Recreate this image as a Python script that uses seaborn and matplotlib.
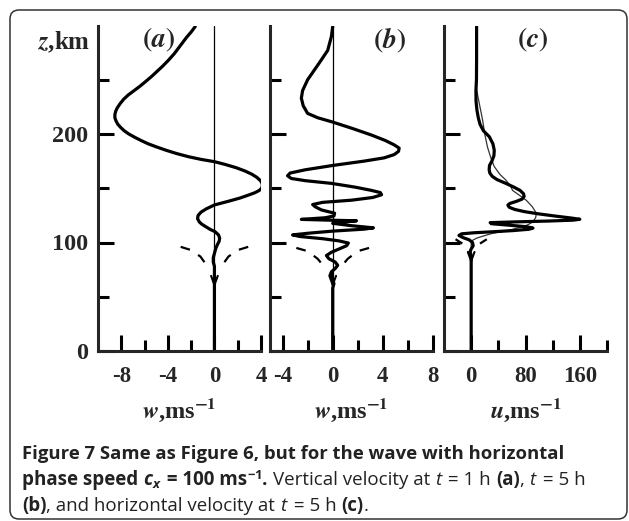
import matplotlib
matplotlib.use("Agg")
import matplotlib.pyplot as plt
from matplotlib.patches import FancyBboxPatch
from matplotlib.transforms import IdentityTransform
import seaborn as sns

# ------------------------------------
# Data (z in km)
# ------------------------------------
# (a) vertical velocity w at t = 1 h
z_a = [299, 294, 289, 284, 279, 274, 268, 263, 258, 253, 248, 244, 240, 236,
       232, 228, 224, 221, 218, 215, 212, 209, 206, 203, 200, 197, 194, 191,
       188, 185, 182, 179, 176.5, 174.5, 172, 169, 166, 163, 160, 157, 154.5,
       152, 150, 148, 146, 144, 141, 138, 134.6, 131, 128, 125, 122, 119, 117,
       114.6, 112, 110, 107, 104, 101, 98, 94, 90, 86, 82, 78, 74, 70, 64, 58,
       40, 20, 0]
w_a = [-1.65, -2.0, -2.4, -2.75, -3.1, -3.45, -3.95, -4.4, -4.9, -5.4, -5.95,
       -6.4, -6.9, -7.4, -7.8, -8.1, -8.35, -8.48, -8.55, -8.55, -8.45, -8.3,
       -8.05, -7.75, -7.35, -6.85, -6.3, -5.7, -4.95, -4.15, -3.25, -2.2,
       -1.1, 0.0, 0.9, 1.85, 2.6, 3.2, 3.65, 3.95, 4.1, 4.12, 4.05, 3.85, 3.5,
       3.0, 2.2, 1.2, 0.0, -0.7, -1.15, -1.4, -1.45, -1.3, -1.1, -0.75, -0.35,
       0.05, 0.35, 0.45, 0.4, 0.25, 0.1, 0.0, -0.1, -0.1, 0.0, 0.0, 0.0, 0.0,
       0.0, 0.0, 0.0, 0.0]

# (b) vertical velocity w at t = 5 h
z_b = [299, 290, 277, 265, 250, 240, 233, 226, 219, 215, 211, 205, 199, 194,
       190, 187, 184, 181, 178, 175, 171, 167, 164, 161.5, 159, 157, 154.5,
       151, 148, 146, 144, 141.5, 139, 137, 135, 133, 130, 127, 124.5, 122.8,
       121.3, 120.6, 120.0, 119.0, 117.7, 115.5, 113.5, 112.3, 110.5, 108.5,
       107.0, 105.5, 103.5, 101.5, 99.5, 97, 94, 91, 88, 85, 82, 79, 76, 73,
       70, 66, 62, 58, 40, 20, 0]
w_b = [0.0, -0.1, -0.4, -1.1, -2.0, -2.4, -2.5, -2.35, -2.0, -1.2, 0.0, 1.6,
       3.1, 4.2, 4.9, 5.3, 5.25, 4.9, 4.1, 2.5, 0.0, -2.2, -3.4, -3.6, -3.3,
       -2.2, -0.1, 1.8, 3.1, 3.8, 3.9, 3.2, 1.5, -0.8, -1.6, -1.4, -0.9, 0.15,
       0.1, -0.6, -2.5, -0.3, 1.9, 1.0, 0.0, 1.5, 3.25, 2.5, 0.0, -2.0, -3.2,
       -2.6, -0.8, 0.5, 1.25, 1.1, 0.5, -0.1, -0.5, -0.3, 0.2, 0.4, 0.2, -0.1,
       -0.2, 0.0, 0.1, 0.0, 0.0, 0.0, 0.0]

# (c) horizontal velocity u at t = 5 h (thick) and thin reference curve
z_c = [299, 270, 250, 240, 230, 222, 215, 209, 203, 197.5, 191, 185, 180,
       175, 171, 167, 164, 161, 158, 154.5, 151, 148, 145, 142.5, 140, 138,
       136, 134.5, 132.5, 130.5, 128.5, 126.5, 124.5, 122.5, 121.4, 120.6,
       119.8, 119.0, 118.3, 117.3, 116, 114.5, 113.3, 112.2, 111, 110, 109,
       108, 106.5, 104.5, 102.5, 100, 97, 94, 91, 88, 84, 80, 60, 30, 0]
u_c = [8, 8, 7.8, 7, 7.2, 8.5, 10.5, 13, 18, 26.7, 32, 34, 33.5, 30.5, 27,
       26.5, 27.5, 31, 38, 51, 63, 72, 77, 78, 75, 67, 57, 54, 56, 64, 78, 98,
       122, 148, 160, 150, 115, 65, 28, 30, 55, 82, 91, 85, 62, 35, 5, -14,
       -18, -12, -3, 2, 3, 0, -2, 0, 0, 0, 0, 0, 0]
z_c_thin = [299, 244, 228, 213, 200, 188, 178, 170, 163, 157.6, 152, 148,
            144, 139, 133, 127, 123, 119, 116.5, 114.6, 112, 110, 108.5, 106,
            104, 102, 99, 90, 0]
u_c_thin = [8, 7, 12, 16.8, 20, 24, 29, 34, 42, 51, 58, 61, 70, 81, 90, 96,
            95, 91, 84, 76, 60, 45, 31.6, 18, 8, 2, 0, 0, 0]

# dashed guide lines (left branch; right branch is mirrored)
dash_z_a = [96, 93, 87, 78]
dash_x_a = [-2.9, -2.0, -1.2, -0.6]
dash_z_b = [95, 92, 85, 78]
dash_x_b = [-2.9, -2.0, -1.2, -0.7]
dash_z_c = [103, 99]
dash_x_c = [-23, -13]

# axis ranges, ticks and labels
xlims = [(-10, 4), (-5, 8), (-40, 200)]
x_major = [[-8, -4, 0, 4], [-4, 0, 4, 8], [0, 80, 160]]
x_minor = [[-6, -2, 2], [-2, 2, 6], [40, 120, 200]]
y_major = [0, 100, 200]
y_minor = [50, 150, 250]
panel_tags = ["a", "b", "c"]
panel_xlabels = [r"$\mathbfit{w}$,ms$^{\mathbf{-1}}$",
                 r"$\mathbfit{w}$,ms$^{\mathbf{-1}}$",
                 r"$\mathbfit{u}$,ms$^{\mathbf{-1}}$"]

# ------------------------------------
# Style
# ------------------------------------
sns.set_theme(style="ticks")
plt.rcParams["font.family"] = ["Liberation Serif", "DejaVu Serif"]
plt.rcParams["axes.unicode_minus"] = False
plt.rcParams["lines.scale_dashes"] = False
plt.rcParams["mathtext.fontset"] = "custom"
plt.rcParams["mathtext.rm"] = "Open Sans"
plt.rcParams["mathtext.it"] = "Open Sans:italic"
plt.rcParams["mathtext.bf"] = "Open Sans:bold"
plt.rcParams["mathtext.bfit"] = "Open Sans:italic:bold"

W, H = 629, 521
fig = plt.figure(figsize=(W / 100, H / 100), dpi=100)


def px_rect(x0, x1, ytop, ybot):
    return [x0 / W, 1 - ybot / H, (x1 - x0) / W, (ybot - ytop) / H]


ax_a = fig.add_axes(px_rect(98, 261, 25.5, 351))
ax_b = fig.add_axes(px_rect(270, 433, 25.5, 351))
ax_c = fig.add_axes(px_rect(444, 607, 25.5, 351))
axes = [ax_a, ax_b, ax_c]

thick = 2.3
sns.lineplot(x=w_a, y=z_a, sort=False, estimator=None, color="black",
             lw=thick, ax=ax_a)
sns.lineplot(x=w_b, y=z_b, sort=False, estimator=None, color="black",
             lw=thick, ax=ax_b)
sns.lineplot(x=u_c_thin, y=z_c_thin, sort=False, estimator=None,
             color="#333333", lw=0.9, ax=ax_c)
sns.lineplot(x=u_c, y=z_c, sort=False, estimator=None, color="black",
             lw=thick, ax=ax_c)

for ax in [ax_a, ax_b]:
    ax.axvline(0, color="black", lw=0.9)

dashes = [(dash_x_a, dash_z_a), (dash_x_b, dash_z_b), (dash_x_c, dash_z_c)]
for ax, (dx, dz) in zip(axes, dashes):
    ax.plot(dx, dz, color="black", lw=1.6, ls=(0, (7, 7)))
    ax.plot([-v for v in dx], dz, color="black", lw=1.6, ls=(0, (7, 7)))

arrows = [(58, 72), (58, 72), (80, 90)]
for ax, (tip, tail) in zip(axes, arrows):
    ax.annotate("", xy=(0, tip), xytext=(0, tail),
                arrowprops=dict(arrowstyle="->,head_length=0.55,head_width=0.2",
                                lw=1.5, color="black", shrinkA=0, shrinkB=0))

for i, ax in enumerate(axes):
    ax.set_xlim(*xlims[i])
    ax.set_ylim(0, 300)
    sns.despine(ax=ax)
    for s in ["left", "bottom"]:
        ax.spines[s].set_linewidth(2.2)
    ax.set_xticks(x_major[i], [str(v) for v in x_major[i]])
    ax.set_xticks(x_minor[i], minor=True)
    ax.set_yticks(y_major, [str(v) for v in y_major])
    ax.set_yticks(y_minor, minor=True)
    ax.tick_params(which="both", direction="in", width=2.2, color="black")
    ax.tick_params(which="major", length=11.5)
    ax.tick_params(which="minor", length=8)
    ax.tick_params(axis="x", which="major", pad=11, labelsize=16.5)
    ax.tick_params(axis="y", which="major", pad=7, labelsize=17.5,
                   labelleft=(i == 0))
    for lab in ax.get_xticklabels() + ax.get_yticklabels():
        lab.set_fontweight("bold")
    ax.set_xlabel(panel_xlabels[i], fontsize=17.5, fontweight="bold",
                  math_fontfamily="stix", labelpad=7)
    ax.set_ylabel("")
    ax.patch.set_alpha(0)

tag_pos = [(0.374, 0.955), (0.736, 0.955), (0.546, 0.955)]
for ax, tag, (tx, ty) in zip(axes, panel_tags, tag_pos):
    ax.text(tx, ty, r"$\mathbf{(}\mathbfit{%s}\mathbf{)}$" % tag,
            transform=ax.transAxes, ha="center", va="center", fontsize=20,
            math_fontfamily="stix")

fig.text(64 / W, 1 - 42 / H, r"$\mathbfit{z}$,km", ha="center", va="center",
         fontsize=18, fontweight="bold", math_fontfamily="stix")

# caption, written as runs of differently styled text on each line
renderer = fig.canvas.get_renderer()


def caption_line(y_px, runs, size):
    x = 22
    for s, weight in runs:
        t = fig.text(x / W, 1 - y_px / H, s, fontsize=size, family="Open Sans",
                     fontweight=weight, color="#222222", va="center",
                     math_fontfamily="custom")
        x = t.get_window_extent(renderer).x1


caption_line(454, [("Figure 7 Same as Figure 6, but for the wave with horizontal",
                    "bold")], 13.3)
caption_line(480, [("phase speed ", "bold"),
                   (r"$\mathbfit{c}_{\mathbfit{x}}$", "bold"),
                   (" = 100 ms", "bold"),
                   (r"$^{\mathbf{-1}}$", "bold"),
                   (". ", "bold"),
                   ("Vertical velocity at ", "normal"),
                   (r"$\mathit{t}$", "normal"),
                   (" = 1 h ", "normal"),
                   ("(a)", "bold"),
                   (", ", "normal"),
                   (r"$\mathit{t}$", "normal"),
                   (" = 5 h", "normal")], 13.5)
caption_line(506, [("(b)", "bold"),
                   (", and horizontal velocity at ", "normal"),
                   (r"$\mathit{t}$", "normal"),
                   (" = 5 h ", "normal"),
                   ("(c)", "bold"),
                   (".", "normal")], 13.5)

# rounded frame
frame = FancyBboxPatch((10, 2), 617, 509,
                       boxstyle="round,pad=0,rounding_size=9",
                       transform=IdentityTransform(), fill=False,
                       lw=1.1, ec="#333333")
fig.add_artist(frame)

fig.savefig("out.png", dpi=100)
